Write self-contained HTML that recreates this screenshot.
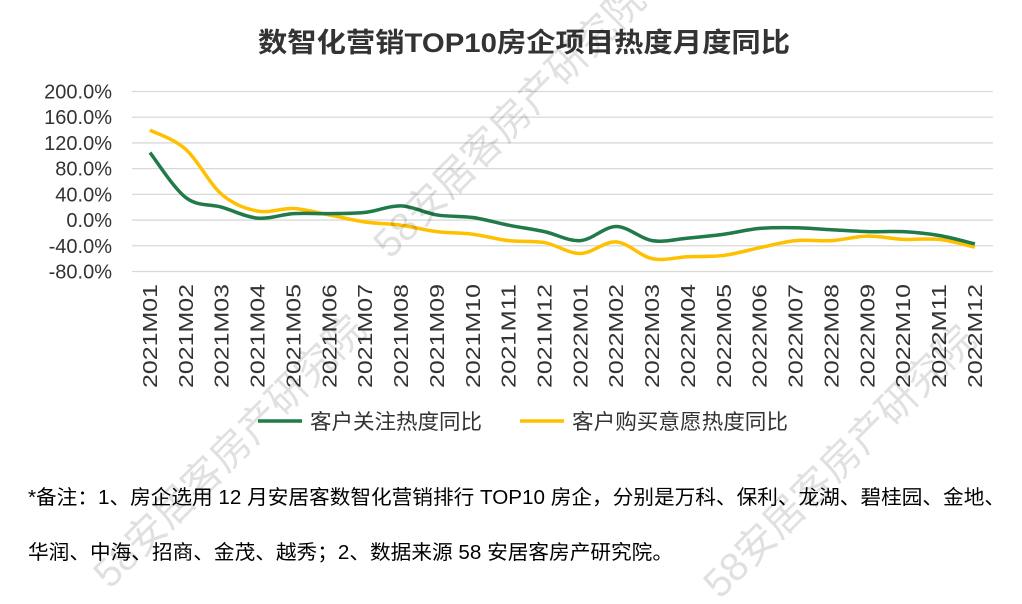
<!DOCTYPE html>
<html><head><meta charset="utf-8"><style>
body{margin:0;background:#fff;width:1022px;height:604px;overflow:hidden;position:relative;font-family:"Liberation Sans","Noto Sans CJK SC",sans-serif}
svg text{font-family:"Liberation Sans","Noto Sans CJK SC",sans-serif}
</style></head><body>
<svg id="c" width="1022" height="604" style="position:absolute;left:0;top:0">
<text x="258" y="52" font-size="27" font-weight="bold" fill="#333" textLength="532" lengthAdjust="spacingAndGlyphs">数智化营销TOP10房企项目热度月度同比</text>
<text x="28" y="504" font-size="20" fill="#000" textLength="977" lengthAdjust="spacingAndGlyphs">*备注：1、房企选用 12 月安居客数智化营销排行 TOP10 房企，分别是万科、保利、龙湖、碧桂园、金地、</text>
<text x="28" y="559" font-size="20" fill="#000" textLength="645" lengthAdjust="spacingAndGlyphs">华润、中海、招商、金茂、越秀；2、数据来源 58 安居客房产研究院。</text>
</svg>
<script>
const categories=["2021M01","2021M02","2021M03","2021M04","2021M05","2021M06","2021M07","2021M08","2021M09","2021M10","2021M11","2021M12","2022M01","2022M02","2022M03","2022M04","2022M05","2022M06","2022M07","2022M08","2022M09","2022M10","2022M11","2022M12"];
const attention=[105,35,20,3,10,10,12,22,8,4,-8,-18,-32,-10,-32,-28,-22,-13,-12,-15,-18,-18,-24,-37];
const purchase=[140,110,40,14,18,8,-3,-8,-18,-22,-32,-35,-52,-34,-60,-57,-55,-43,-32,-32,-25,-30,-30,-42];
const ticks=[200,160,120,80,40,0,-40,-80];
const NS="http://www.w3.org/2000/svg",svg=document.getElementById('c');
const x0=132,step=35.87,yTop=91.5,yBot=271.5;
const X=i=>x0+step*(i+0.5);
const Y=v=>yTop+(200-v)/280*(yBot-yTop);
function mk(t,a){const e=document.createElementNS(NS,t);for(const k in a)e.setAttribute(k,a[k]);svg.appendChild(e);return e;}
ticks.forEach(v=>{
 const l=mk('line',{x1:x0,x2:x0+step*24,y1:Y(v),y2:Y(v),stroke:'#d9d9d9','stroke-width':1.3});
 
 
 const t=mk('text',{x:112,y:Y(v)+7,'text-anchor':'end','font-size':20,fill:'#333'});
 t.textContent=v.toFixed(1)+'%';
 
 
});
categories.forEach((c,i)=>{
 const t=mk('text',{x:0,y:0,'text-anchor':'end','font-size':20,fill:'#333',textLength:104,lengthAdjust:'spacingAndGlyphs',transform:`translate(${X(i)+7},284) rotate(-90)`});
 t.textContent=c;
 
 
});
function smooth(vals){
 const p=vals.map((v,i)=>[X(i),Y(v)]);let d=`M${p[0][0]},${p[0][1]}`;
 for(let i=0;i<p.length-1;i++){const a=p[i-1]||p[i],b=p[i],c=p[i+1],e=p[i+2]||c;
 d+=` C${b[0]+(c[0]-a[0])/6},${b[1]+(c[1]-a[1])/6} ${c[0]-(e[0]-b[0])/6},${c[1]-(e[1]-b[1])/6} ${c[0]},${c[1]}`;}
 return d;}
const pg=mk('path',{d:smooth(purchase),fill:'none',stroke:'#ffc000','stroke-width':3.5});


const ag=mk('path',{d:smooth(attention),fill:'none',stroke:'#217a4a','stroke-width':3.5});


[[258,'#217a4a','客户关注热度同比',172],[520,'#ffc000','客户购买意愿热度同比',216]].forEach(([x,col,txt,w])=>{
 const l=mk('line',{x1:x,x2:x+44,y1:421,y2:421,stroke:col,'stroke-width':3.5});
 
 
 const t=mk('text',{x:x+52,y:429,'font-size':21,fill:'#333',textLength:w,lengthAdjust:'spacingAndGlyphs'});
 t.textContent=txt;
 
 
});
[[390,260],[110,590],[720,600]].forEach(([x,y])=>{
 const t=mk('text',{x:0,y:0,'font-size':40,fill:'#000','fill-opacity':0.12,transform:`translate(${x},${y}) rotate(-45)`});
 t.textContent='58安居客房产研究院';
 
 
});
</script>
</body></html>
